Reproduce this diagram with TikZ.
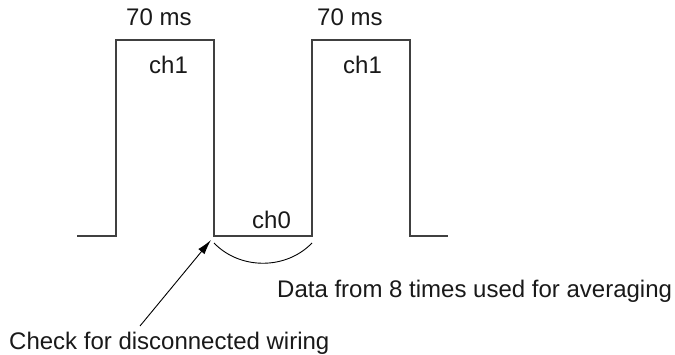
\documentclass[tikz,border=0pt]{standalone}
\usepackage{fontspec}
\setmainfont{Liberation Sans}
\usetikzlibrary{arrows.meta}
\begin{document}
\begin{tikzpicture}[x=1pt,y=-1pt,
  lbl/.style={anchor=base west,inner sep=0pt,font=\fontsize{24}{28}\selectfont,text=black!90},
  wave/.style={draw=black!75,line width=1.3pt},
  pointer/.style={draw=black,line width=0.9pt,-{Latex[length=15pt,width=8pt]}},
  span/.style={draw=black,line width=0.9pt}]
\useasboundingbox (0,0) rectangle (675,355);
% waveform corners
\coordinate (s) at (77,236);
\coordinate (a1) at (116,236);
\coordinate (a2) at (116,40);
\coordinate (a3) at (214,40);
\coordinate (a4) at (214,236);
\coordinate (b1) at (312,236);
\coordinate (b2) at (312,40);
\coordinate (b3) at (410,40);
\coordinate (b4) at (410,236);
\coordinate (e) at (448,236);
\draw[wave] (s) -- (a1) -- (a2) -- (a3) -- (a4) -- (b1) -- (b2) -- (b3) -- (b4) -- (e);
% labels
\node[lbl] (t1) at (126,26) {70 ms};
\node[lbl] (t2) at (317,26) {70 ms};
\node[lbl] (c1) at (149,74) {ch1};
\node[lbl] (c2) at (343,74) {ch1};
\node[lbl] (c0) at (252,229) {ch0};
\node[lbl] (avg) at (277,298) {Data from 8 times used for averaging};
\node[lbl] (chk) at (9,350) {Check for disconnected wiring};
% averaging span
\coordinate (sp1) at (214,243);
\coordinate (sp2) at (312,243);
\draw[span] (sp1) .. controls (240,270) and (286,270) .. (sp2);
% pointer
\coordinate (tail) at (140,326);
\coordinate (tip) at (211,240);
\draw[pointer] (tail) -- (tip);
\end{tikzpicture}
\end{document}
